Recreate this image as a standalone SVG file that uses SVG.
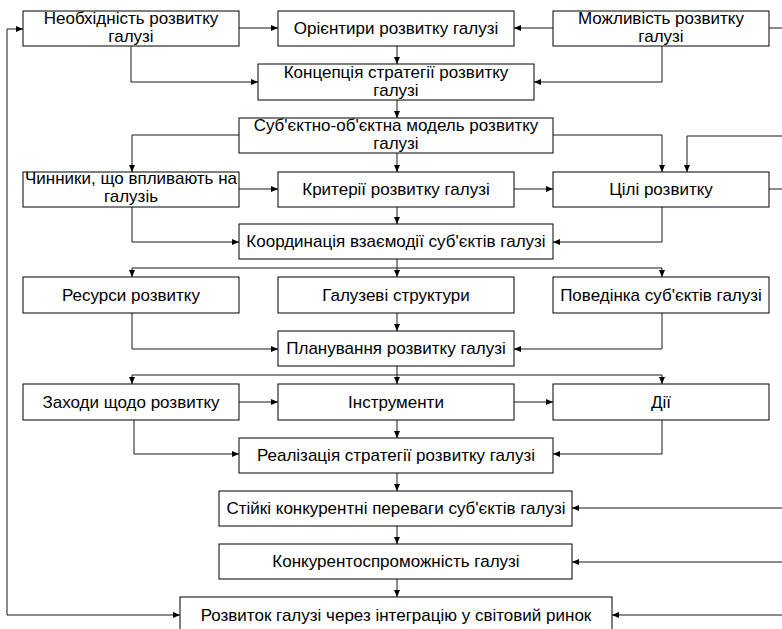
<svg xmlns="http://www.w3.org/2000/svg" width="782" height="629" viewBox="0 0 782 629">
<style>
.b{fill:#fff;stroke:#000;stroke-width:1}
.t{font-family:"Liberation Sans",Arial,sans-serif;font-size:17px;fill:#000;text-anchor:middle}
.c{fill:none;stroke:#1a1a1a;stroke-width:1}
</style>
<defs>
<marker id="a" markerWidth="7" markerHeight="6" refX="7" refY="3" orient="auto" markerUnits="userSpaceOnUse"><path d="M0,0 L7,3 L0,6 z" fill="#000"/></marker>
</defs>
<rect width="782" height="629" fill="#fff"/>
<g id="connectors">
<path class="c" d="M239,28 H278" marker-end="url(#a)"/>
<path class="c" d="M553,28 H514" marker-end="url(#a)"/>
<path class="c" d="M769,28 H782"/>
<path class="c" d="M397,46 V64" marker-end="url(#a)"/>
<path class="c" d="M131,46 V82 H258" marker-end="url(#a)"/>
<path class="c" d="M662,46 V82 H534" marker-end="url(#a)"/>
<path class="c" d="M397,100 V118" marker-end="url(#a)"/>
<path class="c" d="M239,135 H132 V172" marker-end="url(#a)"/>
<path class="c" d="M553,135 H662 V172" marker-end="url(#a)"/>
<path class="c" d="M782,136 H687 V172" marker-end="url(#a)"/>
<path class="c" d="M397,153 V172" marker-end="url(#a)"/>
<path class="c" d="M239,189 H278" marker-end="url(#a)"/>
<path class="c" d="M514,189 H553" marker-end="url(#a)"/>
<path class="c" d="M769,189 H782"/>
<path class="c" d="M397,207 V224" marker-end="url(#a)"/>
<path class="c" d="M132,207 V242 H239" marker-end="url(#a)"/>
<path class="c" d="M662,207 V242 H553" marker-end="url(#a)"/>
<path class="c" d="M397,259 V277" marker-end="url(#a)"/>
<path class="c" d="M132,268 H662"/>
<path class="c" d="M132,268 V277" marker-end="url(#a)"/>
<path class="c" d="M662,268 V277" marker-end="url(#a)"/>
<path class="c" d="M397,313 V331" marker-end="url(#a)"/>
<path class="c" d="M132,313 V349 H278" marker-end="url(#a)"/>
<path class="c" d="M662,313 V349 H514" marker-end="url(#a)"/>
<path class="c" d="M397,366 V384" marker-end="url(#a)"/>
<path class="c" d="M132,375 H662"/>
<path class="c" d="M132,375 V384" marker-end="url(#a)"/>
<path class="c" d="M662,375 V384" marker-end="url(#a)"/>
<path class="c" d="M239,402 H278" marker-end="url(#a)"/>
<path class="c" d="M514,402 H553" marker-end="url(#a)"/>
<path class="c" d="M397,420 V438" marker-end="url(#a)"/>
<path class="c" d="M134,420 V454 H239" marker-end="url(#a)"/>
<path class="c" d="M662,420 V454 H553" marker-end="url(#a)"/>
<path class="c" d="M397,473 V491" marker-end="url(#a)"/>
<path class="c" d="M397,526 V544" marker-end="url(#a)"/>
<path class="c" d="M397,579 V597" marker-end="url(#a)"/>
<path class="c" d="M782,508 H572" marker-end="url(#a)"/>
<path class="c" d="M782,562 H572" marker-end="url(#a)"/>
<path class="c" d="M782,615 H612" marker-end="url(#a)"/>
<path class="c" d="M7,615 H180" marker-end="url(#a)"/>
<path class="c" d="M7,615 V29 H23" marker-end="url(#a)"/>
</g>
<g id="n1"><rect class="b" x="23" y="11" width="216" height="35"/><text class="t" x="131" y="24">Необхідність розвитку</text><text class="t" x="131" y="42">галузі</text></g>
<g id="n2"><rect class="b" x="278" y="11" width="236" height="35"/><text class="t" x="396" y="34">Орієнтири розвитку галузі</text></g>
<g id="n3"><rect class="b" x="553" y="11" width="216" height="35"/><text class="t" x="661" y="24">Можливість розвитку</text><text class="t" x="661" y="42">галузі</text></g>
<g id="n4"><rect class="b" x="258" y="64" width="276" height="36"/><text class="t" x="396" y="78">Концепція стратегії розвитку</text><text class="t" x="396" y="96">галузі</text></g>
<g id="n5"><rect class="b" x="239" y="118" width="314" height="35"/><text class="t" x="396" y="131">Суб'єктно-об'єктна модель розвитку</text><text class="t" x="396" y="149">галузі</text></g>
<g id="n6"><rect class="b" x="23" y="172" width="216" height="35"/><text class="t" x="131" y="184">Чинники, що впливають на</text><text class="t" x="131" y="202">галузіь</text></g>
<g id="n7"><rect class="b" x="278" y="172" width="236" height="35"/><text class="t" x="396" y="195">Критерії розвитку галузі</text></g>
<g id="n8"><rect class="b" x="553" y="172" width="216" height="35"/><text class="t" x="661" y="195">Цілі розвитку</text></g>
<g id="n9"><rect class="b" x="239" y="224" width="314" height="35"/><text class="t" x="396" y="247">Координація взаємодії суб'єктів галузі</text></g>
<g id="n10"><rect class="b" x="23" y="277" width="216" height="36"/><text class="t" x="131" y="301">Ресурси розвитку</text></g>
<g id="n11"><rect class="b" x="278" y="277" width="236" height="36"/><text class="t" x="396" y="301">Галузеві структури</text></g>
<g id="n12"><rect class="b" x="553" y="277" width="216" height="36"/><text class="t" x="661" y="301">Поведінка суб'єктів галузі</text></g>
<g id="n13"><rect class="b" x="278" y="331" width="236" height="35"/><text class="t" x="396" y="354">Планування розвитку галузі</text></g>
<g id="n14"><rect class="b" x="23" y="384" width="216" height="36"/><text class="t" x="131" y="408">Заходи щодо розвитку</text></g>
<g id="n15"><rect class="b" x="278" y="384" width="236" height="36"/><text class="t" x="396" y="408">Інструменти</text></g>
<g id="n16"><rect class="b" x="553" y="384" width="216" height="36"/><text class="t" x="661" y="408">Дії</text></g>
<g id="n17"><rect class="b" x="239" y="438" width="314" height="35"/><text class="t" x="396" y="461">Реалізація стратегії розвитку галузі</text></g>
<g id="n18"><rect class="b" x="219" y="491" width="353" height="35"/><text class="t" x="396" y="514">Стійкі конкурентні переваги суб'єктів галузі</text></g>
<g id="n19"><rect class="b" x="219" y="544" width="353" height="35"/><text class="t" x="396" y="567">Конкурентоспроможність галузі</text></g>
<g id="n20"><rect class="b" x="180" y="597" width="432" height="45"/><text class="t" x="396" y="621">Розвиток галузі через інтеграцію у світовий ринок</text></g>
</svg>
